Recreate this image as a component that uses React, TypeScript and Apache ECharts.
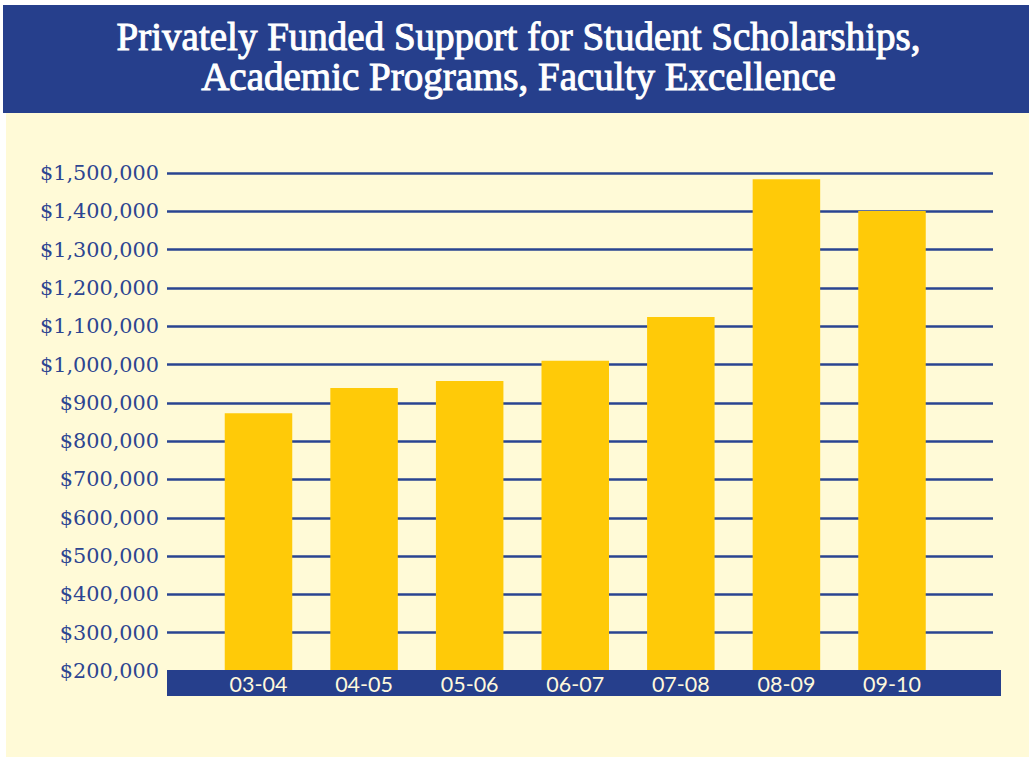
import React, { useEffect, useRef } from "react";
import * as echarts from "echarts";

const titleLines = [
  "Privately Funded Support for Student Scholarships,",
  "Academic Programs, Faculty Excellence",
];
const categories = ["03-04", "04-05", "05-06", "06-07", "07-08", "08-09", "09-10"];
const values = [873000, 939000, 957000, 1010000, 1124000, 1484000, 1401000];
const yMin = 200000;
const yMax = 1500000;
const yStep = 100000;

const BLUE = "#263f8c";
const CREAM = "#fffad7";
const GOLD = "#ffca08";
const LABEL_BLUE = "#2d4591";

export default function App() {
  const ref = useRef<HTMLDivElement>(null);
  useEffect(() => {
    if (!ref.current) return;
    const chart = echarts.init(ref.current, undefined, { renderer: "svg" });
    const fmt = (v: number) => "$" + Math.round(v).toLocaleString("en-US");
    chart.setOption({
      animation: false,
      backgroundColor: "#ffffff",
      graphic: [
        { type: "rect", z: -10, shape: { x: 3, y: 5, width: 1026, height: 108 }, style: { fill: BLUE } },
        { type: "rect", z: -10, shape: { x: 6, y: 113, width: 1023, height: 644 }, style: { fill: CREAM } },
        { type: "rect", z: 3, shape: { x: 167, y: 670, width: 834, height: 26 }, style: { fill: BLUE } },
        {
          type: "text", z: 5, x: 518.5, y: 36.8,
          style: {
            text: titleLines[0], align: "center", verticalAlign: "middle",
            fontFamily: "Liberation Serif", fontSize: 39, fill: "#ffffff",
            stroke: "#ffffff", lineWidth: 1,
          },
        },
        {
          type: "text", z: 5, x: 518.5, y: 76.8,
          style: {
            text: titleLines[1], align: "center", verticalAlign: "middle",
            fontFamily: "Liberation Serif", fontSize: 39, fill: "#ffffff",
            stroke: "#ffffff", lineWidth: 1,
          },
        },
      ],
      grid: [
        { left: 167, right: 36, top: 173, bottom: 87 },
        { left: 205.7, right: 84.2, top: 173, bottom: 87 },
      ],
      xAxis: [
        { type: "category", gridIndex: 0, data: categories, show: false },
        {
          type: "category", gridIndex: 1, data: categories, z: 10,
          axisLine: { show: false }, axisTick: { show: false },
          axisLabel: {
            margin: 13, verticalAlign: "middle", color: "#fff8dc",
            fontFamily: "Lato", fontSize: 21.5,
          },
        },
      ],
      yAxis: [
        {
          type: "value", gridIndex: 0, min: yMin, max: yMax, interval: yStep,
          axisLine: { show: false }, axisTick: { show: false },
          splitLine: { show: true, lineStyle: { color: "#2a4490", width: 2.5 } },
          axisLabel: {
            margin: 8, color: LABEL_BLUE, fontFamily: "DejaVu Serif", fontSize: 20.8,
            formatter: fmt, padding: [0, 0, 7, 0],
          },
        },
        {
          type: "value", gridIndex: 1, min: yMin, max: yMax, interval: yStep, show: false,
          splitLine: { show: false },
        },
      ],
      series: [
        {
          type: "bar", xAxisIndex: 1, yAxisIndex: 1, data: values, barWidth: 67.5,
          itemStyle: { color: GOLD }, z: 2,
        },
      ],
    });
    return () => chart.dispose();
  }, []);
  return (
    <div
      ref={ref}
      style={{ position: "fixed", left: 0, top: 0, width: 1029, height: 758 }}
    />
  );
}
